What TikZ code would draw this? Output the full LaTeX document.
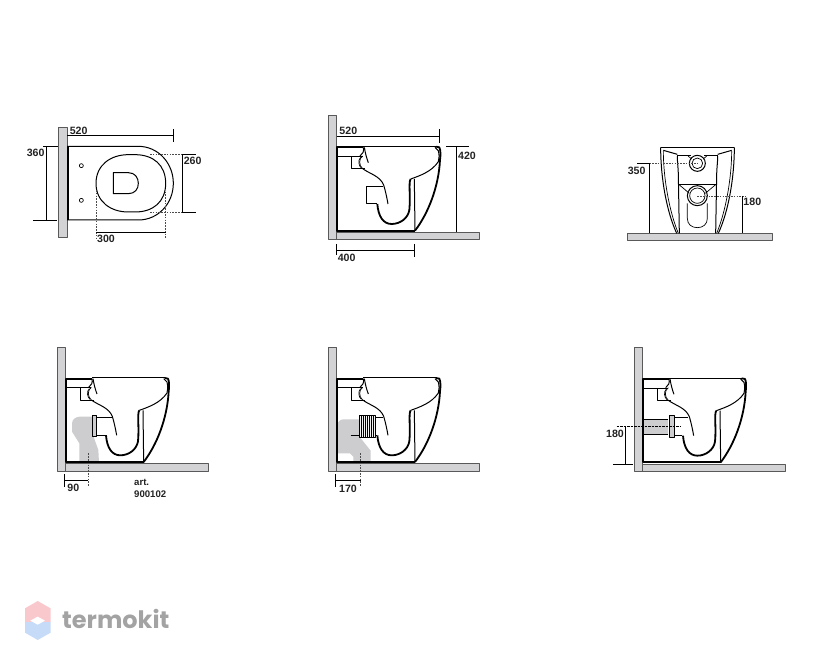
\documentclass[tikz,border=0pt]{standalone}
\usepackage{fontspec}
\setmainfont{Liberation Sans}
\newfontfamily\logofont{Poppins}
\definecolor{wallgray}{HTML}{D3D3D6}
\definecolor{pipegray}{HTML}{CDCDCF}
\definecolor{inkgray}{HTML}{222222}
\definecolor{logopink}{HTML}{F9C8CD}
\definecolor{logoblue}{HTML}{C6DBF8}
\definecolor{logotext}{HTML}{A3A3A3}
\tikzset{
  wall/.style={fill=wallgray,draw=black!65,line width=0.7pt},
  heavy/.style={line width=1.8pt},
  body/.style={line width=1pt},
  thin/.style={line width=0.7pt},
  hidden/.style={line width=0.8pt,dash pattern=on 1.6pt off 1.2pt,draw=black!70},
  pipe/.style={fill=pipegray,draw=none},
  dimtxt/.style={font=\fontsize{10.6}{12}\selectfont\bfseries,text=inkgray,inner sep=0pt},
  arttxt/.style={font=\fontsize{9.6}{11}\selectfont\bfseries,text=inkgray,inner sep=0pt,anchor=west}
}
% side view of the bowl, wall face at x=50, floor at y=367
\newcommand{\bowlprofile}{
  \draw [heavy] (130,112)-- (52,112)-- (52,362)-- (285,362);
  \draw [body] (50,140)-- (128,140);
  \draw [body] (95,140)-- (95,177)-- (135,177);
  \draw [body] (130,110)-- (348,110);
  \draw [body] (130,112).. controls (133,124) and (128,132) .. (120,138);
  \draw [body] (133,112).. controls (136,130) and (140,145) .. (145,158);
  \draw [thin] (128,138).. controls (116,146) and (116,166) .. (128,176);
  \draw [thin] (122,142).. controls (113,150) and (116,168) .. (124,174);
  \draw [body] (128,176).. controls (150,192) and (180,198) .. (191,225).. controls (197,245) and (201,265) .. (204,282);
  \draw [heavy] (348,110)-- (358,112).. controls (362,120) and (362,135) .. (360,150).. controls (356,230) and (325,310) .. (285,362);
  \draw [body] (345,112)-- (355,122).. controls (358,135) and (358,145) .. (355,155).. controls (335,185) and (300,197) .. (272,207);
  \draw [heavy] (272,207).. controls (265,215) and (272,260) .. (268,300).. controls (264,325) and (240,342) .. (215,342).. controls (190,342) and (175,320) .. (172,282);
  \draw [body] (283,207)-- (285,362);
}
\begin{document}
\begin{tikzpicture}[x=0.3333pt,y=-0.3333pt,line cap=butt,line join=round]
\useasboundingbox (0,0) rectangle (2445,1995);
% plan view
\begin{scope}[shift={(60,345)}]
  \draw [wall] (114,37) rectangle (141,368);
  \draw [heavy] (143,94)-- (143,315);
  \draw [body] (141,94)-- (355,94).. controls (415,94) and (460,145) .. (460,205).. controls (460,265) and (415,315) .. (355,315)-- (141,315);
  \draw [body] (228,205).. controls (228,150) and (272,119) .. (325,119)-- (345,119).. controls (400,119) and (437,150) .. (437,205).. controls (437,260) and (400,291) .. (345,291)-- (325,291).. controls (272,291) and (228,260) .. (228,205);
  \draw [body] (325,173)-- (280,173)-- (280,236)-- (325,236).. controls (345,236) and (355,222) .. (355,205).. controls (355,188) and (345,173) .. (325,173);
  \draw [thin] (184,152) circle (6);
  \draw [thin] (184,256) circle (6);
  \draw [thin] (141,62)-- (460,62);
  \draw [thin] (460,43)-- (460,82);
  \draw [thin] (70,94)-- (114,94);
  \draw [thin] (40,315)-- (112,315);
  \draw [thin] (78,94)-- (78,315);
  \draw [hidden] (390,119)-- (487,119);
  \draw [hidden] (390,291)-- (487,291);
  \draw [thin] (487,119)-- (527,119);
  \draw [thin] (487,291)-- (527,291);
  \draw [thin] (488,119)-- (488,291);
  \draw [hidden] (228,225)-- (228,375);
  \draw [hidden] (437,230)-- (437,372);
  \draw [thin] (228,351)-- (437,351);
  \node [dimtxt] (planLength) at (176,47) {520};
  \node [dimtxt] (planWidth) at (47,113) {360};
  \node [dimtxt] (planSeatW) at (518,137) {260};
  \node [dimtxt] (planSeatL) at (258,371) {300};
\end{scope}
% side view with sizes
\begin{scope}[shift={(960,330)}]
  \draw [wall] (26,16) rectangle (50,388);
  \draw [wall] (50,367) rectangle (478,388);
  \bowlprofile
  \draw [body] (190,230)-- (140,230)-- (140,282)-- (172,282);
  \draw [thin] (50,78)-- (358,78);
  \draw [thin] (358,58)-- (358,98);
  \draw [thin] (378,110)-- (447,110);
  \draw [thin] (410,110)-- (410,365);
  \draw [thin] (50,402)-- (50,435);
  \draw [thin] (50,420)-- (283,420);
  \draw [thin] (283,402)-- (283,440);
  \node [dimtxt] (sideLength) at (85,62) {520};
  \node [dimtxt] (sideHeight) at (441,137) {420};
  \node [dimtxt] (sideDepth) at (80,443) {400};
\end{scope}
% front view
\begin{scope}[shift={(1860,405)}]
  \draw [wall] (22,295) rectangle (457,317);
  \draw [body] (122,37)-- (343,37);
  \draw [body] (122,37).. controls (122,130) and (140,230) .. (170,295);
  \draw [body] (343,37).. controls (343,130) and (325,230) .. (295,295);
  \draw [thin] (130,48).. controls (130,130) and (148,230) .. (175,295);
  \draw [thin] (335,48).. controls (335,130) and (317,230) .. (290,295);
  \draw [body] (130,46)-- (172,58);
  \draw [body] (335,46)-- (293,58);
  \draw [body] (172,63)-- (212,63);
  \draw [body] (293,63)-- (252,63);
  \draw [body] (172,63).. controls (172,85) and (175,100) .. (175,120)-- (178,295);
  \draw [body] (293,63).. controls (293,85) and (290,100) .. (290,120)-- (287,295);
  \draw [body] (232,85) circle (24);
  \draw [thin] (232,85) circle (16);
  \draw [thin] (204,63)-- (215,72);
  \draw [thin] (260,63)-- (250,72);
  \draw [body] (176,148)-- (288,148);
  \draw [thin] (176,148)-- (208,175);
  \draw [thin] (288,148)-- (256,175);
  \draw [body] (232,182) circle (30);
  \draw [thin] (232,182) circle (23);
  \draw [thin] (202,205)-- (202,250).. controls (202,268) and (215,278) .. (232,278).. controls (249,278) and (262,268) .. (262,250)-- (262,205);
  \draw [thin] (52,85)-- (88,85);
  \draw [hidden] (88,85)-- (232,85);
  \draw [thin] (88,85)-- (88,295);
  \draw [hidden] (232,183)-- (375,183);
  \draw [thin] (368,183)-- (368,295);
  \node [dimtxt] (frontHigh) at (50,107) {350};
  \node [dimtxt] (frontLow) at (397,201) {180};
\end{scope}
% first fitting
\begin{scope}[shift={(150,1020)}]
  \draw [wall] (22,22) rectangle (46,393);
  \draw [wall] (46,371) rectangle (475,393);
  \draw [pipe] (90,230)-- (130,230)-- (130,288)-- (145,330)-- (147,367)-- (88,367)-- (88,310)-- (66,275)-- (66,250).. controls (66,238) and (78,230) .. (90,230);
  \draw [fill=pipegray,body] (128,226) rectangle (140,290);
  \draw [body] (140,232)-- (190,232);
  \draw [body] (140,288)-- (172,288);
  \draw [hidden] (115,340)-- (115,440);
  \draw [thin] (44,402)-- (44,440);
  \draw [thin] (44,422)-- (115,422);
  \node [dimtxt] (wasteOne) at (70,445) {90};
  \node [arttxt] (artLabel) at (252,427) {art.};
  \node [arttxt] (artCode) at (252,462) {900102};
\end{scope}
\begin{scope}[shift={(146,1024)}]
  \bowlprofile
\end{scope}
% second fitting
\begin{scope}[shift={(960,1020)}]
  \draw [wall] (26,22) rectangle (50,393);
  \draw [wall] (50,371) rectangle (478,393);
  \draw [pipe] (70,238)-- (120,238)-- (120,292)-- (152,332)-- (152,367)-- (100,367)-- (100,350)-- (90,340)-- (52,340)-- (50,260).. controls (52,246) and (60,238) .. (70,238);
  \draw [body] (92,288)-- (118,288);
  \draw [fill=white!75!pipegray,body] (118,228) rectangle (165,292);
  \foreach \xbar in {124,130,136,142,148,154,160}
    \draw [thin] (\xbar,228)-- (\xbar,292);
  \draw [body] (165,232)-- (190,232);
  \draw [body] (165,288)-- (172,288);
  \draw [hidden] (122,340)-- (122,437);
  \draw [thin] (47,402)-- (47,440);
  \draw [thin] (47,422)-- (122,422);
  \node [dimtxt] (wasteTwo) at (84,447) {170};
\end{scope}
\begin{scope}[shift={(960,1024)}]
  \bowlprofile
\end{scope}
% third fitting
\begin{scope}[shift={(1800,1020)}]
  \draw [wall] (103,22) rectangle (127,394);
  \draw [wall] (127,372) rectangle (555,394);
  \draw [pipe] (127,237) rectangle (205,283);
  \draw [thin] (127,237)-- (205,237);
  \draw [thin] (127,283)-- (205,283);
  \draw [fill=pipegray,body] (208,228) rectangle (222,292);
  \draw [body] (222,232)-- (265,232);
  \draw [body] (222,288)-- (245,288);
  \draw [line width=0.7pt,dash pattern=on 2.5pt off 1pt] (50,259)-- (240,259);
  \draw [thin] (77,259)-- (77,372);
  \draw [thin] (40,372)-- (100,372);
  \node [dimtxt] (wasteHigh) at (45,282) {180};
\end{scope}
\begin{scope}[shift={(1877,1025)}]
  \bowlprofile
\end{scope}
% logo
\begin{scope}[shift={(45,1770)}]
  \fill [logopink] (68,33)-- (107,55)-- (107,96)-- (30,96)-- (30,55)-- cycle;
  \fill [logoblue] (30,96)-- (107,96)-- (107,128)-- (68,150)-- (30,128)-- cycle;
  \fill [white] (46,92)-- (68,80)-- (90,92)-- (68,104)-- cycle;
  \node [anchor=west,inner sep=0pt,text=logotext] (logoName) at (141,88) {\logofont\fontsize{24}{26}\selectfont\bfseries termokit};
\end{scope}
\end{tikzpicture}
\end{document}
